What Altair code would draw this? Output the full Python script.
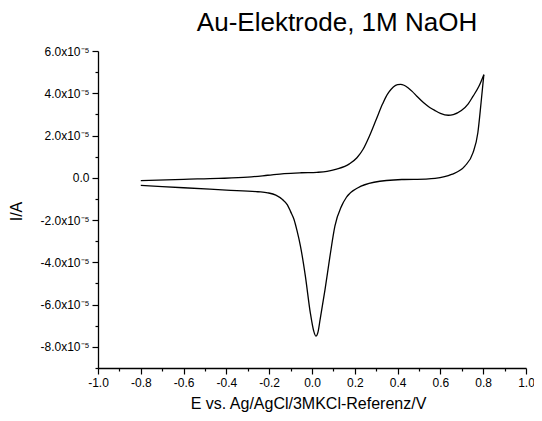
import altair as alt
import pandas as pd

# Anodic (forward) scan, E in V, I in 1e-5 A
upper_E = [-0.8, -0.6, -0.437, -0.3, -0.207, -0.13, -0.05, 0.023, 0.07, 0.115, 0.175, 0.21,
           0.238, 0.268, 0.30, 0.33, 0.345, 0.36, 0.38, 0.40, 0.414, 0.43, 0.45, 0.468, 0.49,
           0.522, 0.55, 0.575, 0.60, 0.637, 0.66, 0.698, 0.73, 0.752, 0.78, 0.803]
upper_I = [-0.13, -0.07, -0.03, 0.03, 0.12, 0.2, 0.24, 0.26, 0.30, 0.41, 0.66, 0.95,
           1.34, 1.97, 2.76, 3.5, 3.82, 4.06, 4.3, 4.41, 4.42, 4.38, 4.25, 4.09, 3.86,
           3.55, 3.33, 3.18, 3.05, 2.96, 2.99, 3.18, 3.5, 3.85, 4.33, 4.88]

# Cathodic (reverse) scan, listed in order of increasing E
lower_E = [-0.8, -0.6, -0.4, -0.253, -0.207, -0.169, -0.138, -0.115, -0.1, -0.084, -0.07,
           -0.054, -0.031, -0.008, 0.008, 0.018, 0.028, 0.038, 0.061, 0.084, 0.107, 0.138,
           0.161, 0.215, 0.29, 0.42, 0.53, 0.575, 0.652, 0.714, 0.752, 0.775, 0.79, 0.803]
lower_I = [-0.36, -0.47, -0.58, -0.66, -0.71, -0.82, -1.03, -1.28, -1.6, -1.97, -2.5,
           -3.23, -4.65, -6.38, -7.25, -7.49, -7.3, -6.70, -5.28, -3.71, -2.29, -1.34,
           -0.92, -0.47, -0.21, -0.08, -0.06, -0.03, 0.16, 0.55, 1.18, 2.13, 3.55, 4.88]

x_ticks = [-1.0, -0.9, -0.8, -0.7, -0.6, -0.5, -0.4, -0.3, -0.2, -0.1, 0.0,
           0.1, 0.2, 0.3, 0.4, 0.5, 0.6, 0.7, 0.8, 0.9, 1.0]
y_ticks_e5 = [-9, -8, -7, -6, -5, -4, -3, -2, -1, 0, 1, 2, 3, 4, 5, 6]

df = pd.concat([
    pd.DataFrame({"E": upper_E, "I": [v * 1e-5 for v in upper_I], "branch": "anodic"}),
    pd.DataFrame({"E": lower_E, "I": [v * 1e-5 for v in lower_I], "branch": "cathodic"}),
])

FONT = "Liberation Sans"

x_axis = alt.Axis(
    values=x_ticks,
    labelExpr="round(datum.value*10)%2==0 ? (datum.value < -0.001 ? '-' : '') + format(abs(datum.value), '.1f') : ''",
    tickSize={"condition": {"test": "round(datum.value*10)%2==0", "value": 6}, "value": 3},
    grid=False, labelFont=FONT, labelFontSize=12, labelColor="black", labelPadding=3,
    domainColor="black", tickColor="black", domainWidth=1.3, tickWidth=1.2,
    title="E vs. Ag/AgCl/3MKCl-Referenz/V", titleFont=FONT, titleFontSize=16,
    titleFontWeight="normal", titleColor="black",
    titleX=210, titleY=35, titleAlign="center", titleBaseline="middle",
    labelFlush=False, labelOverlap=False,
)

y_axis = alt.Axis(
    values=[k * 1e-5 for k in y_ticks_e5],
    labelExpr="round(datum.value*1e5)%2!=0 ? '' : (round(datum.value*1e5)==0 ? '0.0' : (datum.value < 0 ? '-' : '') + format(abs(round(datum.value*1e5)), '.1f') + 'x10⁻⁵')",
    tickSize={"condition": {"test": "round(datum.value*1e5)%2==0", "value": 6}, "value": 3},
    grid=False, labelFont=FONT, labelFontSize=12, labelColor="black", labelPadding=3,
    domainColor="black", tickColor="black", domainWidth=1.3, tickWidth=1.2,
    title="I/A", titleFont=FONT, titleFontSize=16, titleFontWeight="normal",
    titleColor="black", titleX=-82, titleY=160, titleAlign="center",
    titleBaseline="middle", titleAngle=-90,
    labelFlush=False, labelOverlap=False,
)

chart = alt.Chart(df).mark_line(color="black", strokeWidth=1.3, interpolate="monotone").encode(
    x=alt.X("E:Q", scale=alt.Scale(domain=[-1.0, 1.0], nice=False, zero=False), axis=x_axis),
    y=alt.Y("I:Q", scale=alt.Scale(domain=[-9e-5, 6e-5], nice=False, zero=False), axis=y_axis),
    detail="branch:N",
).properties(
    width=428,
    height=317,
    title=alt.TitleParams(
        "Au-Elektrode, 1M NaOH", font=FONT, fontSize=26, fontWeight="normal",
        color="black", anchor="middle", dx=25, dy=30, frame="group", baseline="alphabetic", offset=18,
    ),
    autosize=alt.AutoSizeParams(type="none"),
    padding={"left": 90, "top": 43, "right": 8, "bottom": 45},
).configure_view(stroke=None)

chart.save("out.html", embed_options={"renderer": "svg", "actions": False})
